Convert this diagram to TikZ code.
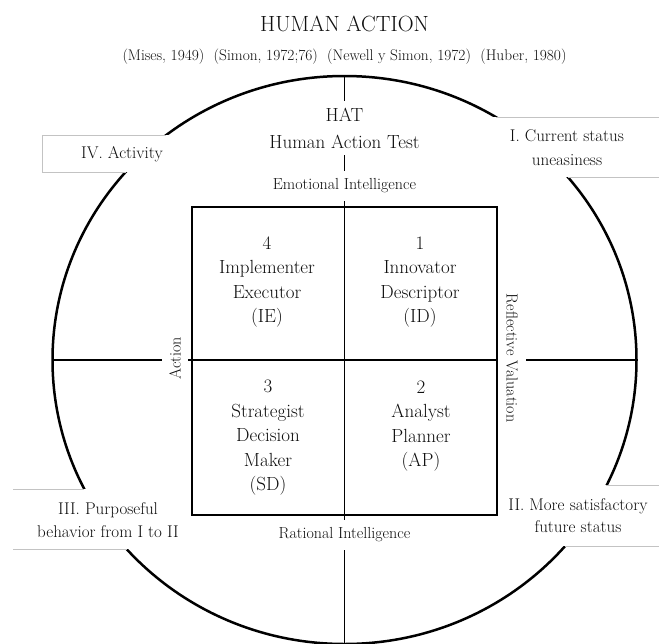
\documentclass[tikz,border=0pt]{standalone}
\usepackage{fontspec}
\definecolor{ink}{RGB}{15,15,15}
\definecolor{boxline}{RGB}{195,195,195}
\begin{document}
\begin{tikzpicture}[x=1pt,y=-1pt,
  txt/.style={text=ink, inner sep=0pt, align=center},
  axislabel/.style={txt, fill=white, font=\fontsize{16}{16}\selectfont},
  quad/.style={txt, font=\fontsize{19}{24.5}\selectfont},
  sidetext/.style={txt, font=\fontsize{17}{23}\selectfont},
  axisline/.style={line width=1.5pt, black},
  frame/.style={boxline, line width=0.9pt}]
\useasboundingbox (0,0) rectangle (659,643);
\fill[white] (0,0) rectangle (659,643);

% outer ellipse and the two axes
\draw[line width=2.5pt] (344.5,360) ellipse [x radius=292, y radius=284];
\coordinate (etop) at (344.5,76);
\coordinate (ebot) at (344.5,646);
\coordinate (eleft) at (52.5,360);
\coordinate (eright) at (636.5,360);
\draw[axisline] (etop) -- (ebot);
\draw[axisline] (eleft) -- (eright);

% label boxes laid over the ellipse
\fill[white] (42,135) rectangle (200,172);
\draw[frame] (166,135) -- (42,135) -- (42,172) -- (126,172);
\fill[white] (470,117) rectangle (660,177);
\draw[frame] (496,117) -- (660,117);
\draw[frame] (568,177) -- (660,177);
\fill[white] (0,489) rectangle (189,549);
\draw[frame] (13,489) -- (84,489);
\draw[frame] (13,549) -- (127,549);
\fill[white] (499,485) rectangle (660,546);
\draw[frame] (606,485) -- (660,485);
\draw[frame] (565,546) -- (660,546);

\node[sidetext] (act) at (122,154) {IV. Activity};
\node[sidetext, font=\fontsize{17}{24}\selectfont] (cur) at (567,148) {I. Current status\\uneasiness};
\node[sidetext] (pur) at (108,520) {III. Purposeful\\behavior from I to II};
\node[sidetext, font=\fontsize{17}{22}\selectfont] (fut) at (578,516) {II. More satisfactory\\future status};

% titles
\node[txt, font=\fontsize{22}{22}\selectfont] (title) at (344.5,24) {HUMAN ACTION};
\node[txt, font=\fontsize{15.4}{15.4}\selectfont] (refs) at (344.5,57)
  {(Mises, 1949) \ (Simon, 1972;76) \ (Newell y Simon, 1972) \ (Huber, 1980)};
\node[txt, fill=white, inner xsep=3pt, inner ysep=7pt, font=\fontsize{19}{27}\selectfont]
  (hat) at (344.5,128) {HAT\\Human Action Test};

% axis labels
\node[axislabel, inner xsep=2pt, inner ysep=8pt] (emo) at (344.5,186) {Emotional Intelligence};
\node[axislabel, inner xsep=2pt, inner ysep=8pt] (rat) at (344.5,535) {Rational Intelligence};
\node[axislabel, rotate=90, inner xsep=2pt, inner ysep=7pt] (action) at (175,358) {Action};
\node[axislabel, rotate=-90, inner xsep=2pt, inner ysep=8pt] (refl) at (512,358) {Reflective Valuation};

% the four quadrants
\draw[line width=2.8pt] (192,207) rectangle (497,515);
\node[quad] (q4) at (267,282) {4\\Implementer\\Executor\\(IE)};
\node[quad] (q1) at (420,282) {1\\Innovator\\Descriptor\\(ID)};
\node[quad] (q3) at (268,438) {3\\Strategist\\Decision\\Maker\\(SD)};
\node[quad] (q2) at (421,426) {2\\Analyst\\Planner\\(AP)};
\end{tikzpicture}
\end{document}
